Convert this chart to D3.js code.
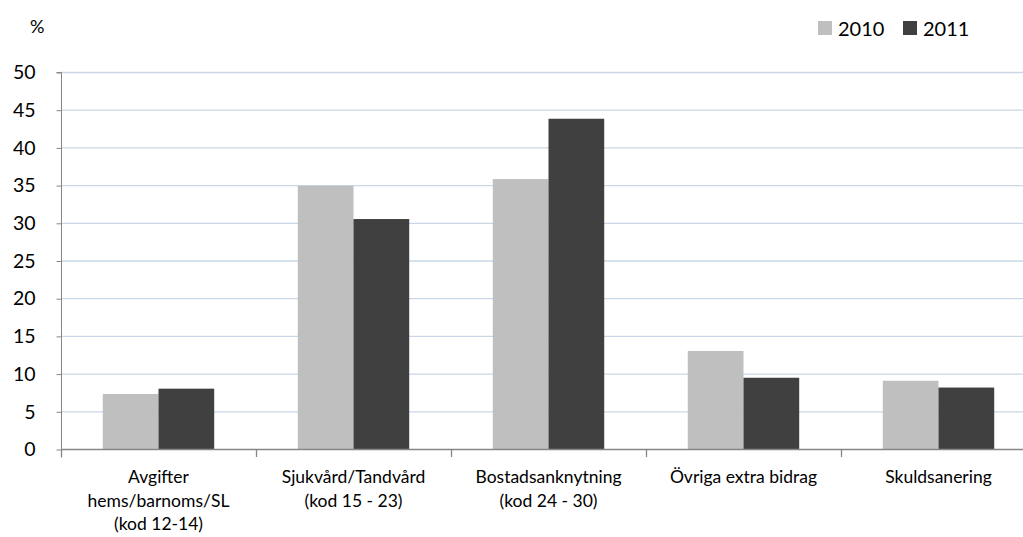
<!DOCTYPE html>
<html><head><meta charset="utf-8">
<script src="https://cdn.jsdelivr.net/npm/d3@7"></script>
<style>body{margin:0;background:#fff}svg{display:block}text{font-family:Lato,"Open Sans",sans-serif;fill:#000}</style>
</head><body><svg id="c" width="1023" height="537"></svg>
<script>
const categories = [
  ["Avgifter","hems/barnoms/SL","(kod 12-14)"],
  ["Sjukvård/Tandvård","(kod 15 - 23)"],
  ["Bostadsanknytning","(kod 24 - 30)"],
  ["Övriga extra bidrag"],
  ["Skuldsanering"]
];
const seriesNames = ["2010","2011"];
const values2010 = [7.3, 34.9, 35.8, 13.0, 9.05];
const values2011 = [8.0, 30.5, 43.8, 9.45, 8.15];
const yTicks = [0,5,10,15,20,25,30,35,40,45,50];
const colors = ["#bfbfbf","#404040"];

const svg = d3.select("#c");
const L = 61, R = 1036, T = 72, B = 449;
const catKeys = categories.map((c,i)=>i);
const x0 = d3.scaleBand().domain(catKeys).range([L,R]);
const x1 = d3.scaleBand().domain(seriesNames).range([0,x0.bandwidth()]).paddingInner(0).paddingOuter(0.75);
const y = d3.scaleLinear().domain([0,50]).range([B,T]);

// gridlines
svg.append("g").selectAll("line").data(yTicks.filter(d=>d>0)).join("line")
  .attr("x1",L).attr("x2",R).attr("y1",d=>y(d)+0.5).attr("y2",d=>y(d)+0.5)
  .attr("stroke","#c9d7e8").attr("stroke-width",1.3);

// bars
const data = seriesNames.map((s,si)=>({s, vals: si===0?values2010:values2011, color: colors[si]}));
data.forEach(ser=>{
  svg.append("g").selectAll("rect").data(ser.vals).join("rect")
    .attr("x",(d,i)=>x0(i)+x1(ser.s))
    .attr("width",x1.bandwidth())
    .attr("y",d=>y(d))
    .attr("height",d=>B-y(d))
    .attr("fill",ser.color);
});

// y axis
const yAxis = d3.axisLeft(y).tickValues(yTicks).tickSize(5).tickPadding(6).tickFormat(d3.format("d"));
const gy = svg.append("g").attr("transform",`translate(${L+0.5},0.5)`).call(yAxis);
gy.select(".domain").attr("stroke","#868686").attr("d",`M-5,${T}H0V${B+8}`);
gy.selectAll(".tick line").attr("stroke","#868686");
gy.selectAll(".tick text").attr("font-size",19.5).attr("font-family","Lato,'Open Sans',sans-serif").attr("fill","#000").attr("x",-26).attr("text-anchor","end");

// x axis
svg.append("line").attr("x1",L).attr("x2",R).attr("y1",B+0.5).attr("y2",B+0.5).attr("stroke","#868686").attr("stroke-width",1.3);
const bounds = catKeys.map(i=>x0(i)).concat([R]);
svg.append("g").selectAll("line").data(bounds).join("line")
  .attr("x1",d=>d+0.5).attr("x2",d=>d+0.5).attr("y1",B).attr("y2",B+8)
  .attr("stroke","#868686").attr("stroke-width",1.3);

// category labels
categories.forEach((lines,i)=>{
  const cx = x0(i)+x0.bandwidth()/2;
  const t = svg.append("text").attr("x",cx).attr("y",483).attr("text-anchor","middle").attr("font-size",17.5);
  lines.forEach((ln,j)=>t.append("tspan").attr("x",cx).attr("dy",j===0?0:23.5).text(ln));
});

// unit label
svg.append("text").attr("x",30).attr("y",33).attr("font-size",18).text("%");

// legend
const lg = svg.append("g");
const legX = [818, 903];
seriesNames.forEach((s,i)=>{
  lg.append("rect").attr("x",legX[i]).attr("y",21).attr("width",14).attr("height",14).attr("fill",colors[i]);
  lg.append("text").attr("x",legX[i]+20).attr("y",35.5).attr("font-size",20).text(s);
});
</script></body></html>
